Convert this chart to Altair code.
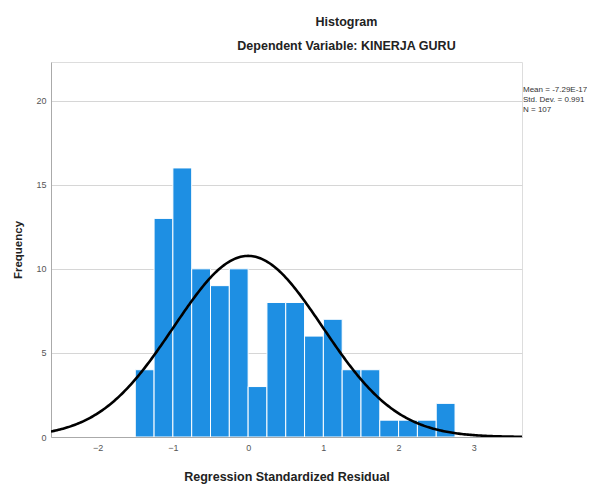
import altair as alt
import pandas as pd

# Histogram bins (lower edges) and counts
bin_start = [-1.50, -1.25, -1.00, -0.75, -0.50, -0.25, 0.00, 0.25, 0.50,
             0.75, 1.00, 1.25, 1.50, 1.75, 2.00, 2.25, 2.50]
counts = [4, 13, 16, 10, 9, 10, 3, 8, 8, 6, 7, 4, 4, 1, 1, 1, 2]
bin_width = 0.25

mean_val = -7.29e-17
std_val = 0.991
n_val = 107
stats_lines = ["Mean = -7.29E-17", "Std. Dev. = 0.991", "N = 107"]

x_ticks = [-2, -1, 0, 1, 2, 3]
y_ticks = [0, 5, 10, 15, 20]
x_domain = [-2.62, 3.64]
y_domain = [0, 22.3]

FONT = "Liberation Sans"

df = pd.DataFrame({"start": bin_start, "count": counts})

x_scale = alt.Scale(domain=x_domain, nice=False, zero=False)
y_scale = alt.Scale(domain=y_domain, nice=False)

bars = alt.Chart(df).transform_calculate(
    end=f"datum.start + {bin_width}"
).mark_rect(color="#1E8FE3", stroke="white", strokeWidth=1, clip=True).encode(
    x=alt.X("start:Q", scale=x_scale,
            axis=alt.Axis(values=x_ticks, format="d", grid=False, ticks=False,
                          labelFontSize=9, labelColor="#555555", labelFont=FONT,
                          labelPadding=6, domainColor="#aaaaaa",
                          title="Regression Standardized Residual",
                          titleFont=FONT, titleFontSize=12.5, titleFontWeight="bold",
                          titleColor="#222222", titleBaseline="alphabetic",
                          titleY=43)),
    x2="end:Q",
    y=alt.Y("count:Q", scale=y_scale,
            axis=alt.Axis(values=y_ticks, format="d", grid=True, gridColor="#d6d6d6",
                          ticks=False, labelFontSize=9, labelColor="#555555",
                          labelFont=FONT, labelPadding=5, domainColor="#aaaaaa",
                          title="Frequency", titleFont=FONT, titleFontSize=11.5,
                          titleFontWeight="bold", titleColor="#222222",
                          titleX=-33, titleBaseline="middle")),
    y2=alt.datum(0),
)

curve = alt.Chart(alt.sequence(x_domain[0], x_domain[1] + 0.01, 0.02, as_="xv")).transform_calculate(
    yv=f"{n_val} * {bin_width} / ({std_val} * sqrt(2 * PI)) * exp(-0.5 * pow((datum.xv - ({mean_val})) / {std_val}, 2))"
).mark_line(color="black", strokeWidth=2.6, clip=True).encode(
    x=alt.X("xv:Q", scale=x_scale),
    y=alt.Y("yv:Q", scale=y_scale),
)

stats = alt.Chart(alt.Data(values=[{"a": 1}])).mark_text(
    text=stats_lines, align="left", baseline="top", fontSize=8, lineHeight=10,
    font=FONT, color="#333333"
).encode(x=alt.value(472), y=alt.value(24))

chart = alt.layer(bars, curve, stats).properties(
    width=471, height=375,
    padding={"left": 43, "top": 54, "right": 65, "bottom": 47},
    autosize=alt.AutoSizeParams(type="none"),
    title=alt.TitleParams(
        text="Histogram", subtitle="Dependent Variable: KINERJA GURU",
        anchor="middle", dx=60, font=FONT, fontSize=12.5, fontWeight="bold",
        color="#222222", subtitleFont=FONT, subtitleFontSize=12.5,
        subtitleFontWeight="bold", subtitleColor="#222222",
        subtitlePadding=11, offset=10,
    ),
).configure_view(stroke=None).configure(background="white")

chart.save("out.html", embed_options={"renderer": "svg", "actions": False})
